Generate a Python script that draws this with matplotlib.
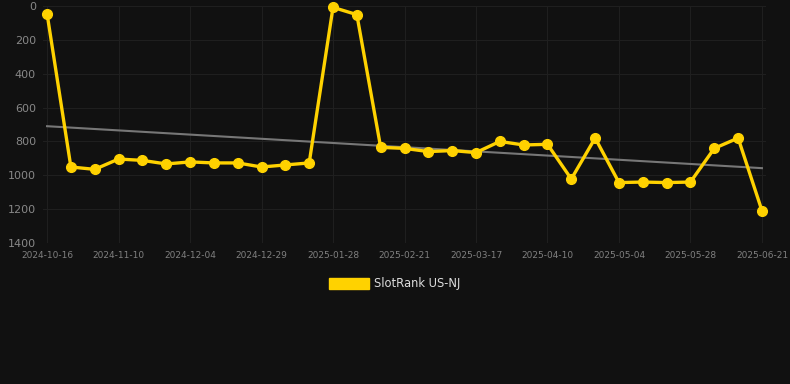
import matplotlib
matplotlib.use("Agg")
import matplotlib.pyplot as plt
import matplotlib.patches as mpatches
import numpy as np

# weekly SlotRank values (lower = better)
ranks = [45, 951, 965, 904, 912, 933, 921, 927, 927, 951, 939, 927,
         8, 51, 835, 841, 860, 854, 866, 800, 821, 817, 1022, 780,
         1043, 1040, 1043, 1040, 841, 780, 1209]
tick_labels = ["2024-10-16", "2024-11-10", "2024-12-04", "2024-12-29",
               "2025-01-28", "2025-02-21", "2025-03-17", "2025-04-10",
               "2025-05-04", "2025-05-28", "2025-06-21"]
series_name = "SlotRank US-NJ"

bg = "#111111"
gold = "#FFD200"

fig = plt.figure(figsize=(7.9, 3.84), dpi=100, facecolor=bg)
ax = fig.add_axes([43 / 790, 1 - 243 / 384, (766 - 43) / 790, (243 - 6) / 384])
ax.set_facecolor(bg)

x = np.arange(len(ranks))
# trend line (linear fit)
k, b = np.polyfit(x, ranks, 1)
ax.plot(x, k * x + b, color="#777777", lw=1.5, zorder=2)

ax.plot(x, ranks, color=gold, lw=2.4, marker="o", ms=7, zorder=3, clip_on=False)

ax.set_xlim(-0.17, len(ranks) - 1 + 0.17)
ax.set_ylim(1400, 0)
ax.set_yticks(range(0, 1401, 200))
ax.set_xticks(x[::3])
ax.set_xticklabels(tick_labels)

ax.grid(True, color="#1f1f1f", lw=0.8)
ax.set_axisbelow(True)
for s in ax.spines.values():
    s.set_visible(False)
ax.tick_params(axis="y", length=0, colors="#888888", labelsize=8, pad=5)
ax.tick_params(axis="x", length=0, colors="#808080", labelsize=6.5, pad=6)

handle = mpatches.Patch(color=gold, label=series_name)
leg = fig.legend(handles=[handle], loc="center", bbox_to_anchor=(0.5, 1 - 284 / 384),
                 frameon=False, fontsize=8.3, handlelength=3.4, handleheight=1.1,
                 handletextpad=0.5, labelcolor="#dddddd")

fig.savefig("out.png", dpi=100, facecolor=bg)
